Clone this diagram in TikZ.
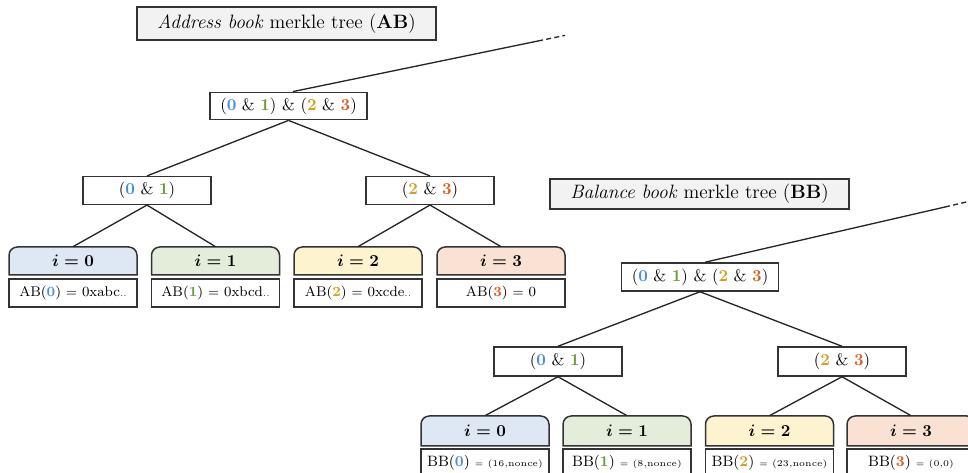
\documentclass[tikz,border=0pt]{standalone}
\definecolor{czero}{HTML}{4A8FD6}
\definecolor{cone}{HTML}{6A9A3A}
\definecolor{ctwo}{HTML}{D4A020}
\definecolor{cthree}{HTML}{D8611F}
\definecolor{fzero}{HTML}{DDE8F4}
\definecolor{fone}{HTML}{E4EDDA}
\definecolor{ftwo}{HTML}{FDF3CF}
\definecolor{fthree}{HTML}{F9E1D3}
\definecolor{edgegray}{HTML}{333333}
\definecolor{labelfill}{HTML}{F2F2F2}
\newcommand{\kzero}{\textbf{\color{czero}0}}
\newcommand{\kone}{\textbf{\color{cone}1}}
\newcommand{\ktwo}{\textbf{\color{ctwo}2}}
\newcommand{\kthree}{\textbf{\color{cthree}3}}
\newcommand{\ieq}[1]{{\boldmath$i=#1$}}
\newcommand{\smallval}[1]{{\fontsize{5.3}{7}\selectfont$=$ #1}}
% #1 centre x, #2 top y, #3 bottom y, #4 fill colour
\newcommand{\leafshape}[4]{%
  \draw[boxline, fill=#4] (#1-64,#3) [rounded corners=5pt] -- (#1-64,#2) -- (#1+64,#2) [sharp corners] -- (#1+64,#3) -- cycle;}
\tikzset{
  boxline/.style={draw=edgegray, line width=0.9pt},
  conn/.style={draw=black!85, line width=0.8pt},
  titlebox/.style={boxline, fill=labelfill, inner sep=0pt, minimum width=179.4pt, font=\fontsize{11.6}{14}\selectfont},
  rootbox/.style={boxline, fill=white, inner sep=0pt, minimum width=94.2pt, minimum height=16.4pt},
  midbox/.style={boxline, fill=white, inner sep=0pt, minimum width=76.8pt, minimum height=16.6pt},
  headbox/.style={inner sep=0pt, minimum width=76.8pt, minimum height=#1},
  valbox/.style={boxline, fill=white, inner sep=0pt, minimum width=76.8pt, minimum height=16.8pt, font=\fontsize{8.4}{10}\selectfont},
}
\begin{document}
\begin{tikzpicture}[x=0.6pt, y=-0.6pt]
\useasboundingbox (0,0) rectangle (968,473);

% ---------------- Address book tree ----------------
\node[titlebox, minimum height=19.8pt] (ablabel) at (286.5,23.5) {\textit{Address book} merkle tree (\textbf{AB})};
\node[rootbox] (abroot) at (288.5,106) {(\kzero{} \& \kone) \& (\ktwo{} \& \kthree)};
\node[midbox] (abl) at (147,190.5) {(\kzero{} \& \kone)};
\node[midbox] (abr) at (430,190.5) {(\ktwo{} \& \kthree)};

\leafshape{73}{247}{275}{fzero}
\leafshape{215.5}{247}{275}{fone}
\leafshape{358}{247}{275}{ftwo}
\leafshape{501}{247}{275}{fthree}

\node[headbox=16.8pt] (abh0) at (73,261) {\ieq{0}};
\node[headbox=16.8pt] (abh1) at (215.5,261) {\ieq{1}};
\node[headbox=16.8pt] (abh2) at (358,261) {\ieq{2}};
\node[headbox=16.8pt] (abh3) at (501,261) {\ieq{3}};

\node[valbox] (abv0) at (73,293) {AB(\kzero) $=$ 0xabc{\tiny..}};
\node[valbox] (abv1) at (215.5,293) {AB(\kone) $=$ 0xbcd{\tiny..}};
\node[valbox] (abv2) at (358,293) {AB(\ktwo) $=$ 0xcde{\tiny..}};
\node[valbox] (abv3) at (501,293) {AB(\kthree) $=$ 0};

\coordinate (abbend) at (538,41);
\coordinate (abend) at (565,35.4);
\draw[conn] ([xshift=2.7pt]abroot.north) -- (abbend);
\draw[conn, dash pattern=on 3pt off 2pt] (abbend) -- (abend);
\draw[conn] (abroot.south) -- (abl.north);
\draw[conn] (abroot.south) -- (abr.north);
\draw[conn] (abl.south) -- (abh0.north);
\draw[conn] (abl.south) -- (abh1.north);
\draw[conn] (abr.south) -- (abh2.north);
\draw[conn] (abr.south) -- (abh3.north);

% ---------------- Balance book tree ----------------
\node[titlebox, minimum height=18pt] (bblabel) at (699.5,194) {\textit{Balance book} merkle tree (\textbf{BB})};
\node[rootbox, minimum height=16.8pt] (bbroot) at (700,277) {(\kzero{} \& \kone) \& (\ktwo{} \& \kthree)};
\node[midbox, minimum height=17.4pt] (bbl) at (558,361.5) {(\kzero{} \& \kone)};
\node[midbox, minimum height=17.4pt] (bbr) at (842,361.5) {(\ktwo{} \& \kthree)};

\leafshape{485}{416}{446}{fzero}
\leafshape{627}{416}{446}{fone}
\leafshape{769.5}{416}{446}{ftwo}
\leafshape{911}{416}{446}{fthree}

\node[headbox=18pt] (bbh0) at (485,431) {\ieq{0}};
\node[headbox=18pt] (bbh1) at (627,431) {\ieq{1}};
\node[headbox=18pt] (bbh2) at (769.5,431) {\ieq{2}};
\node[headbox=18pt] (bbh3) at (911,431) {\ieq{3}};

\node[valbox, font=\fontsize{9}{11}\selectfont] (bbv0) at (485,463) {BB(\kzero) \smallval{(16,nonce)}};
\node[valbox, font=\fontsize{9}{11}\selectfont] (bbv1) at (627,463) {BB(\kone) \smallval{(8,nonce)}};
\node[valbox, font=\fontsize{9}{11}\selectfont] (bbv2) at (769.5,463) {BB(\ktwo) \smallval{(23,nonce)}};
\node[valbox, font=\fontsize{9}{11}\selectfont] (bbv3) at (911,463) {BB(\kthree) \smallval{(0,0)}};

\coordinate (bbbend) at (945,207);
\coordinate (bbend) at (968,201.6);
\draw[conn] ([xshift=3pt]bbroot.north) -- (bbbend);
\draw[conn, dash pattern=on 3pt off 2pt] (bbbend) -- (bbend);
\draw[conn] (bbroot.south) -- (bbl.north);
\draw[conn] (bbroot.south) -- (bbr.north);
\draw[conn] (bbl.south) -- (bbh0.north);
\draw[conn] (bbl.south) -- (bbh1.north);
\draw[conn] (bbr.south) -- (bbh2.north);
\draw[conn] (bbr.south) -- (bbh3.north);
\end{tikzpicture}
\end{document}
